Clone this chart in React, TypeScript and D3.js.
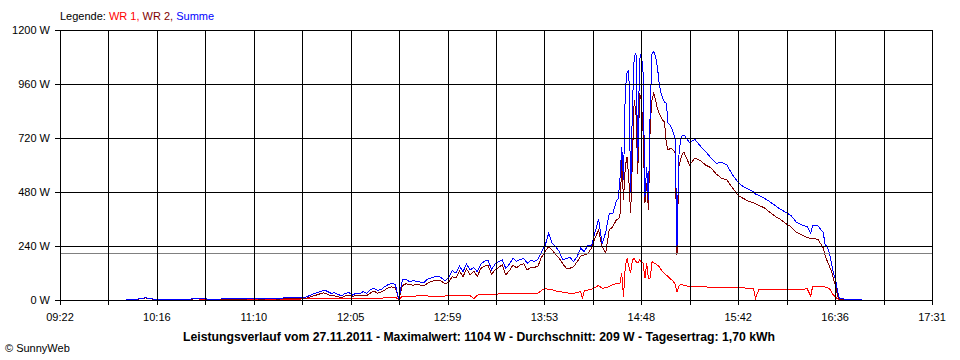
import React from 'react';
import * as d3 from 'd3';

// Messzeitpunkte (HH:MM) und Leistungswerte in W
const times = [
  '09:59', '10:05', '10:10', '10:15', '10:20', '10:25', '10:30', '10:35', '10:40', '10:45', '10:50', '10:55',
  '11:00', '11:05', '11:10', '11:15', '11:20', '11:25', '11:30', '11:35', '11:40', '11:45', '11:48',
  '11:50', '11:52', '11:54', '11:56', '11:58', '12:00', '12:02', '12:04', '12:06', '12:08', '12:10', '12:12',
  '12:14', '12:16', '12:18', '12:20', '12:22', '12:24', '12:26', '12:28', '12:30', '12:32', '12:34', '12:36',
  '12:38', '12:40', '12:42', '12:44', '12:46', '12:48', '12:50', '12:52', '12:54', '12:56', '12:58', '13:00',
  '13:02', '13:04', '13:06', '13:08', '13:10', '13:12', '13:14', '13:16', '13:18', '13:20', '13:22', '13:24',
  '13:26', '13:28', '13:30', '13:32', '13:34', '13:36', '13:38', '13:40', '13:42', '13:44', '13:46', '13:48',
  '13:50', '13:52', '13:54', '13:56', '13:58', '14:00', '14:02', '14:04', '14:06', '14:08', '14:10', '14:12',
  '14:14', '14:15', '14:16', '14:18', '14:20', '14:22', '14:24', '14:26', '14:28', '14:30', '14:32', '14:34',
  '14:35', '14:36', '14:37', '14:38', '14:39', '14:40', '14:41', '14:42', '14:43', '14:44', '14:45', '14:46',
  '14:47', '14:48', '14:49', '14:50', '14:51', '14:52', '14:53', '14:54', '14:55', '14:56', '14:57', '14:58',
  '14:59', '15:00', '15:01', '15:02', '15:03', '15:04', '15:05', '15:06', '15:07', '15:08', '15:09', '15:10',
  '15:11', '15:12', '15:15', '15:18', '15:21', '15:24', '15:27', '15:30', '15:33', '15:36', '15:39', '15:42',
  '15:45', '15:48', '15:51', '15:52', '15:54', '15:57', '16:00', '16:03', '16:06', '16:09', '16:12', '16:15',
  '16:18', '16:21', '16:23', '16:24', '16:27', '16:30', '16:31', '16:32', '16:33', '16:34', '16:35', '16:36',
  '16:37', '16:38', '16:39', '16:42', '16:45', '16:48', '16:52'
];

const wr1 = [
  0, 0, 0, 0, 0, 0, 0, 0, 0, 1, 1, 2,
  2, 2, 2, 2, 3, 3, 4, 4, 5, 7, 7,
  7, 7, 7, 7, 7, 7, 7, 7, 7, 7, 7, 7,
  7, 7, 7, 7, 7, 10, 12, 12, 12, 2, 16, 16,
  16, 16, 18, 18, 18, 18, 16, 16, 16, 16, 18, 18,
  20, 20, 20, 20, 20, 20, 5, 22, 24, 25, 25, 25,
  22, 27, 28, 28, 28, 28, 28, 28, 28, 28, 28, 28,
  30, 42, 52, 47, 45, 40, 37, 35, 32, 30, 30, 33,
  37, 7, 40, 44, 47, 55, 65, 52, 55, 60, 68, 74,
  74, 74, 119, 15, 148, 185, 150, 119, 178, 185, 170, 165,
  178, 170, 163, 96, 163, 96, 98, 170, 165, 163, 155, 148,
  135, 126, 119, 111, 104, 96, 90, 81, 70, 37, 60, 70,
  67, 65, 59, 60, 58, 58, 57, 56, 56, 55, 55, 54,
  54, 52, 50, 7, 48, 47, 47, 47, 46, 46, 46, 46,
  47, 50, 18, 58, 59, 59, 58, 56, 52, 45, 30, 20,
  12, 5, 0, 0, 0, 0, 0
];

const wr2 = [
  3, 3, 9, 3, 3, 3, 3, 3, 7, 3, 3, 3,
  3, 4, 5, 4, 5, 4, 8, 5, 8, 20, 28,
  32, 25, 19, 18, 14, 10, 18, 22, 16, 20, 18, 22,
  20, 30, 40, 30, 35, 44, 54, 58, 55, 3, 64, 72,
  68, 66, 70, 66, 62, 74, 82, 86, 89, 83, 72, 80,
  104, 98, 128, 104, 138, 112, 128, 105, 140, 150, 156, 114,
  135, 145, 156, 112, 130, 156, 143, 155, 162, 133, 145, 145,
  150, 190, 215, 237, 222, 200, 185, 160, 141, 141, 148, 170,
  195, 198, 200, 207, 230, 274, 311, 237, 210, 311, 326, 356,
  360, 370, 622, 444, 593, 637, 533, 385, 622, 889, 830, 560,
  919, 889, 741, 430, 520, 400, 785, 889, 919, 890, 850, 830,
  815, 800, 790, 696, 667, 672, 674, 665, 652, 200, 593, 622,
  652, 655, 600, 630, 620, 600, 588, 560, 541, 533, 500, 467,
  452, 440, 432, 428, 420, 410, 390, 372, 358, 340, 325, 300,
  290, 278, 274, 274, 270, 232, 200, 178, 160, 140, 120, 85,
  60, 20, 3, 3, 3, 3, 3
];

const summe = [
  3, 3, 10, 3, 3, 3, 3, 4, 8, 4, 4, 5,
  5, 6, 7, 6, 8, 7, 12, 9, 13, 30, 37,
  45, 38, 30, 32, 25, 18, 30, 33, 22, 30, 28, 37,
  30, 45, 52, 44, 45, 59, 68, 74, 70, 3, 89, 92,
  82, 85, 84, 80, 77, 92, 98, 103, 107, 98, 85, 100,
  130, 120, 150, 126, 160, 133, 145, 126, 160, 172, 178, 135,
  160, 170, 178, 140, 160, 185, 172, 180, 185, 163, 175, 172,
  180, 215, 240, 296, 252, 237, 215, 178, 185, 190, 170, 193,
  230, 222, 215, 244, 240, 300, 360, 250, 300, 385, 385, 440,
  450, 533, 681, 533, 933, 1013, 1022, 474, 859, 1081, 1096, 620,
  1067, 1096, 1007, 459, 593, 444, 859, 1096, 1104, 1081, 1037, 963,
  920, 896, 880, 874, 785, 778, 763, 741, 714, 236, 637, 710,
  733, 733, 700, 714, 685, 660, 632, 607, 612, 600, 558, 526,
  504, 492, 481, 470, 465, 452, 437, 420, 403, 390, 375, 345,
  333, 326, 296, 330, 330, 300, 250, 237, 222, 190, 148, 111,
  89, 40, 7, 4, 4, 4, 4
];

const yTicks = [0, 240, 480, 720, 960, 1200];
const xTickLabels = ['09:22', '10:16', '11:10', '12:05', '12:59', '13:53', '14:48', '15:42', '16:36', '17:31'];
const durchschnitt = 209;
const titel =
  'Leistungsverlauf vom 27.11.2011 - Maximalwert: 1104 W - Durchschnitt: 209 W - Tagesertrag: 1,70 kWh';

const font = '"Liberation Sans", Arial, sans-serif';

const toMin = (s: string) => {
  const [h, m] = s.split(':').map(Number);
  return h * 60 + m;
};

export default function App() {
  const t0 = toMin(xTickLabels[0]);
  const t1 = toMin(xTickLabels[xTickLabels.length - 1]);
  const x = d3.scaleLinear().domain([t0, t1]).range([60, 932]);
  const y = d3.scaleLinear().domain([0, 1200]).range([300, 30]);

  const mins = times.map(toMin);
  const line = d3
    .line<number>()
    .x((d, i) => x(mins[i]))
    .y(d => y(d));

  // 18 Intervalle, jede zweite Linie beschriftet
  const gridTimes = d3.range(19).map(i => t0 + (i * (t1 - t0)) / 18);
  const snap = (v: number) => Math.round(v) + 0.5;

  return (
    <svg
      width={960}
      height={360}
      style={{ position: 'absolute', left: 0, top: 0, display: 'block', background: '#fff' }}
      fontFamily={font}
    >
      <text x={60} y={20} fontSize={11}>
        <tspan fill="#000">Legende: </tspan>
        <tspan fill="#ff0000">WR 1, </tspan>
        <tspan fill="#800000">WR 2, </tspan>
        <tspan fill="#0000ff">Summe</tspan>
      </text>

      {/* Kurven zuerst, das Gitter liegt darüber */}
      <g fill="none" strokeWidth={1} shapeRendering="crispEdges">
        <path d={line(wr1) || ''} stroke="#ff0000" />
        <path d={line(wr2) || ''} stroke="#800000" />
        <path d={line(summe) || ''} stroke="#0000ff" />
      </g>

      <line
        x1={60}
        x2={932}
        y1={snap(y(durchschnitt))}
        y2={snap(y(durchschnitt))}
        stroke="#808080"
        shapeRendering="crispEdges"
      />

      <g shapeRendering="crispEdges" stroke="#000" strokeWidth={1}>
        {yTicks.map(v => (
          <line key={'h' + v} x1={55} x2={932} y1={snap(y(v))} y2={snap(y(v))} />
        ))}
        {gridTimes.map((t, i) => (
          <line key={'v' + i} x1={snap(x(t))} x2={snap(x(t))} y1={30} y2={305} />
        ))}
      </g>

      {yTicks.map(v => (
        <text key={'yl' + v} x={50} y={y(v) + 4} fontSize={11} textAnchor="end" fill="#000">
          {v} W
        </text>
      ))}
      {gridTimes
        .filter((t, i) => i % 2 === 0)
        .map((t, i) => (
          <text key={'xl' + i} x={x(t)} y={321} fontSize={11} textAnchor="middle" fill="#000">
            {xTickLabels[i]}
          </text>
        ))}

      <text
        x={479}
        y={341}
        fontSize={12}
        fontWeight="bold"
        textAnchor="middle"
        textLength={592}
        lengthAdjust="spacingAndGlyphs"
        fill="#000"
      >
        {titel}
      </text>
      <text x={5} y={352} fontSize={11} fill="#000">
        © SunnyWeb
      </text>
    </svg>
  );
}
